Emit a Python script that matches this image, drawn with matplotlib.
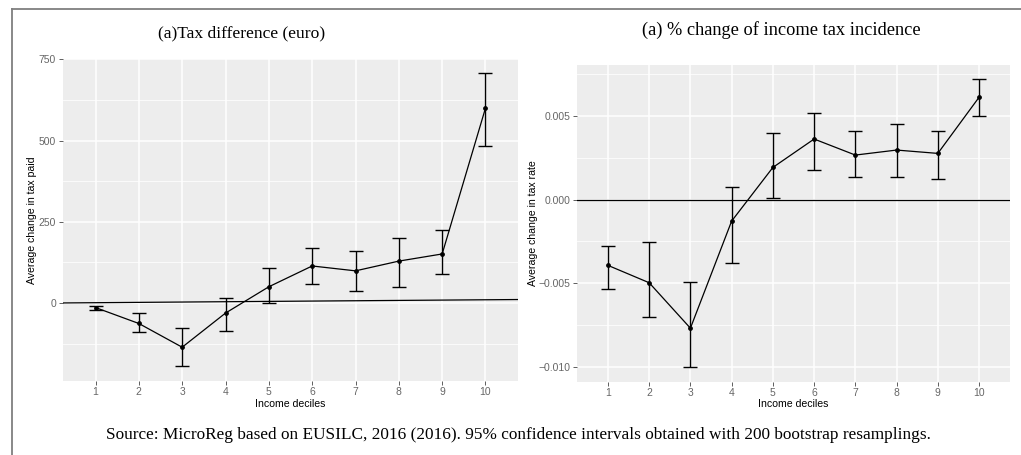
import matplotlib.pyplot as plt
from matplotlib.lines import Line2D

deciles = [1, 2, 3, 4, 5, 6, 7, 8, 9, 10]

# left: tax difference (euro)
tax_diff = [-14, -63, -136, -31, 50, 114, 99, 129, 151, 600]
tax_lo = [-21, -90, -193, -85, 0, 58, 36, 49, 88, 483]
tax_hi = [-10, -32, -78, 16, 107, 168, 161, 200, 226, 707]

# right: % change of income tax incidence
rate_diff = [-0.00393, -0.00497, -0.00769, -0.00128, 0.00193, 0.00363, 0.00267, 0.00297, 0.00277, 0.00613]
rate_lo = [-0.00533, -0.00701, -0.01003, -0.00377, 0.00012, 0.00176, 0.00134, 0.00134, 0.00122, 0.00503]
rate_hi = [-0.00278, -0.00256, -0.00495, 0.00074, 0.00399, 0.00517, 0.00411, 0.00451, 0.00411, 0.00721]

left_ticks = [0, 250, 500, 750]
left_minor = [-125, 125, 375, 625]
right_ticks = [-0.010, -0.005, 0.000, 0.005]
right_minor = [-0.0075, -0.0025, 0.0025, 0.0075]

W, H = 1021, 455
fig = plt.figure(figsize=(W / 100, H / 100), dpi=100)
fig.patch.set_facecolor('white')

sans = 'Liberation Sans'
serif = 'Liberation Serif'


def box(x0, y0, x1, y1):
    return [x0 / W, 1 - y1 / H, (x1 - x0) / W, (y1 - y0) / H]


def gg_panel(ax, ticks, minor, labels, ylim, ylabel, ylab_x, xlab_y):
    ax.set_facecolor('#EDEDED')
    for s in ax.spines.values():
        s.set_visible(False)
    ax.set_xlim(0.25, 10.75)
    ax.set_ylim(*ylim)
    ax.set_xticks(deciles)
    ax.set_xticklabels([str(d) for d in deciles])
    ax.set_yticks(ticks)
    ax.set_yticklabels(labels)
    ax.set_yticks(minor, minor=True)
    ax.grid(which='major', color='white', lw=1.1)
    ax.grid(which='minor', axis='y', color='white', lw=0.55)
    ax.set_axisbelow(True)
    ax.tick_params(which='major', length=2.75, width=0.6, color='#444444',
                   labelsize=7.5, labelcolor='#666666', pad=2.2)
    ax.tick_params(axis='x', which='major', pad=1.5)
    ax.tick_params(which='minor', length=0)
    for t in ax.get_xticklabels() + ax.get_yticklabels():
        t.set_fontfamily(sans)
    ax.set_xlabel('Income deciles', fontsize=7.6, family=sans)
    ax.set_ylabel(ylabel, fontsize=7.6, family=sans)
    ax.yaxis.set_label_coords(ylab_x, 0.5)
    ax.xaxis.set_label_coords(0.5, xlab_y)
    ax.xaxis.label.set_va('center')
    ax.yaxis.label.set_va('center')


def draw_series(ax, y, lo, hi):
    err = [[v - l for v, l in zip(y, lo)], [h - v for v, h in zip(y, hi)]]
    ax.errorbar(deciles, y, yerr=err, fmt='none', ecolor='black',
                elinewidth=1.0, capsize=4.7, capthick=1.0, zorder=3)
    ax.plot(deciles, y, color='black', lw=0.9, zorder=4)
    ax.scatter(deciles, y, s=6, color='black', zorder=5)


# left panel
ax1 = fig.add_axes(box(63, 59, 518, 381))
gg_panel(ax1, left_ticks, left_minor, ['0', '250', '500', '750'],
         (-240, 751), 'Average change in tax paid', -0.068, -0.070)
ax1.axline((0, 0), slope=1, color='black', lw=0.9, zorder=2)
draw_series(ax1, tax_diff, tax_lo, tax_hi)

# right panel
ax2 = fig.add_axes(box(577, 65, 1010, 382))
gg_panel(ax2, right_ticks, right_minor, ['\u22120.010', '\u22120.005', '0.000', '0.005'],
         (-0.01091, 0.00806), 'Average change in tax rate', -0.102, -0.068)
ax2.axhline(0, color='black', lw=0.9, zorder=2)
draw_series(ax2, rate_diff, rate_lo, rate_hi)

# titles and caption
fig.text(242 / W, 1 - 33 / H, '(a)Tax difference (euro)', ha='center', va='center',
         family=serif, fontsize=12.6)
fig.text(781 / W, 1 - 30 / H, '(a) % change of income tax incidence', ha='center', va='center',
         family=serif, fontsize=13.2)
fig.text(518 / W, 1 - 435 / H,
         'Source: MicroReg based on EUSILC, 2016 (2016). 95% confidence intervals '
         'obtained with 200 bootstrap resamplings.',
         ha='center', va='center', family=serif, fontsize=12.4)

# frame (left and top edges)
fig.add_artist(Line2D([11.5 / W, 11.5 / W], [0, 1 - 8.5 / H], color='#7F7F7F', lw=1.3))
fig.add_artist(Line2D([11.5 / W, 1], [1 - 8.5 / H, 1 - 8.5 / H], color='#7F7F7F', lw=1.3))

fig.savefig('out.png', dpi=100)
